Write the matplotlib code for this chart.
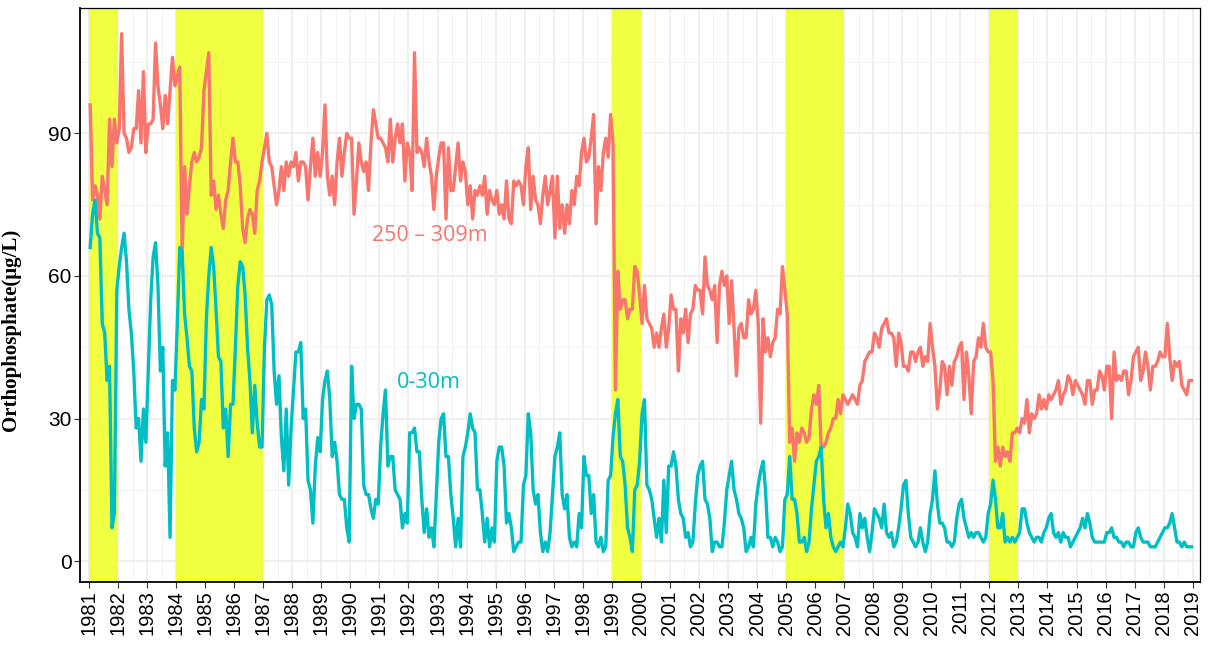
import matplotlib
matplotlib.use("Agg")
import matplotlib.pyplot as plt
from matplotlib.ticker import MultipleLocator
import numpy as np

# Monthly orthophosphate (ug/L), one row per year, Jan..Dec
YEARS = np.arange(1981, 2019)

DEEP_250_309 = [
    96, 76, 79, 77, 72, 81, 78, 75, 93, 83, 93, 88,    # 1981
    91, 111, 90, 89, 86, 87, 91, 91, 99, 88, 103, 86,  # 1982
    92, 92, 93, 109, 100, 96, 91, 98, 92, 99, 106, 100,  # 1983
    102, 104, 65, 83, 73, 79, 84, 86, 84, 85, 87, 99,  # 1984
    103, 107, 77, 80, 74, 77, 73, 70, 76, 78, 84, 89,  # 1985
    84, 84, 79, 70, 67, 72, 74, 73, 69, 78, 80, 84,    # 1986
    87, 90, 84, 83, 79, 75, 78, 83, 78, 84, 81, 84,    # 1987
    83, 86, 80, 84, 84, 83, 76, 83, 89, 81, 86, 81,    # 1988
    86, 96, 81, 77, 81, 75, 84, 89, 81, 86, 90, 89,    # 1989
    89, 73, 80, 88, 84, 82, 84, 78, 88, 95, 92, 89,    # 1990
    89, 88, 87, 84, 93, 84, 89, 92, 88, 92, 80, 88,    # 1991
    86, 78, 107, 86, 87, 86, 83, 89, 84, 81, 74, 81,   # 1992
    85, 88, 88, 72, 87, 78, 78, 83, 88, 80, 84, 82,    # 1993
    75, 79, 72, 78, 77, 79, 77, 81, 73, 78, 76, 75,    # 1994
    78, 73, 75, 72, 80, 72, 71, 80, 79, 80, 79, 75,    # 1995
    83, 87, 74, 81, 76, 75, 71, 77, 81, 75, 78, 81,    # 1996
    68, 81, 70, 75, 69, 75, 71, 78, 75, 81, 79, 86,    # 1997
    89, 84, 85, 89, 94, 71, 83, 78, 86, 89, 85, 94,    # 1998
    88, 36, 61, 53, 55, 55, 51, 53, 53, 62, 61, 56,    # 1999
    50, 58, 51, 50, 49, 45, 48, 45, 49, 52, 45, 49,    # 2000
    56, 53, 53, 40, 51, 48, 53, 46, 52, 53, 58, 57,    # 2001
    57, 52, 64, 58, 57, 55, 58, 46, 58, 61, 58, 60,    # 2002
    50, 59, 49, 39, 49, 50, 47, 47, 55, 52, 53, 57,    # 2003
    50, 29, 51, 44, 47, 43, 46, 47, 53, 52, 62, 57,    # 2004
    52, 25, 28, 21, 27, 25, 28, 27, 25, 26, 32, 35,    # 2005
    33, 37, 24, 24, 25, 27, 28, 30, 30, 34, 31, 35,    # 2006
    34, 33, 34, 35, 34, 33, 37, 38, 42, 43, 44, 44,    # 2007
    48, 47, 45, 49, 50, 51, 48, 48, 47, 41, 48, 46,    # 2008
    41, 41, 40, 44, 44, 42, 44, 45, 41, 43, 42, 50,    # 2009
    45, 41, 32, 36, 42, 41, 35, 41, 37, 42, 43, 45,    # 2010
    46, 34, 44, 39, 31, 42, 43, 47, 45, 50, 45, 44,    # 2011
    44, 38, 21, 24, 20, 24, 22, 23, 21, 27, 27, 28,    # 2012
    27, 30, 29, 34, 27, 31, 30, 31, 35, 32, 34, 32,    # 2013
    35, 34, 35, 36, 38, 33, 35, 36, 39, 38, 35, 38,    # 2014
    37, 36, 35, 33, 38, 38, 33, 36, 36, 40, 39, 36,    # 2015
    41, 41, 30, 44, 38, 39, 38, 40, 40, 35, 38, 43,    # 2016
    44, 45, 38, 40, 44, 41, 36, 41, 41, 42, 44, 43,    # 2017
    43, 50, 43, 38, 42, 41, 42, 37, 36, 35, 38, 38,    # 2018
]

SURFACE_0_30 = [
    66, 73, 76, 69, 68, 50, 48, 38, 41, 7, 10, 57,     # 1981
    62, 66, 69, 63, 53, 48, 40, 28, 30, 21, 32, 25,    # 1982
    40, 55, 64, 67, 58, 40, 45, 20, 27, 5, 38, 36,     # 1983
    50, 66, 65, 52, 47, 41, 40, 28, 23, 25, 34, 32,    # 1984
    51, 60, 66, 62, 53, 43, 42, 28, 32, 22, 33, 33,    # 1985
    45, 58, 63, 62, 56, 45, 38, 27, 37, 29, 24, 24,    # 1986
    45, 55, 56, 54, 40, 33, 39, 26, 19, 32, 16, 28,    # 1987
    36, 44, 44, 46, 30, 32, 17, 15, 8, 20, 26, 23,     # 1988
    34, 38, 40, 34, 22, 25, 21, 14, 13, 13, 7, 4,      # 1989
    41, 30, 33, 33, 32, 16, 14, 14, 11, 9, 13, 12,     # 1990
    24, 31, 36, 20, 22, 22, 15, 14, 13, 7, 10, 8,      # 1991
    27, 27, 28, 23, 23, 13, 6, 11, 5, 7, 3, 14,        # 1992
    25, 30, 31, 22, 22, 14, 9, 3, 9, 3, 22, 24,        # 1993
    27, 31, 28, 27, 15, 15, 10, 4, 9, 3, 7, 4,         # 1994
    21, 24, 24, 20, 8, 10, 7, 2, 3, 4, 4, 16,          # 1995
    18, 31, 27, 15, 12, 14, 6, 2, 4, 2, 6, 14,         # 1996
    22, 24, 27, 14, 11, 14, 5, 3, 4, 3, 10, 7,         # 1997
    22, 18, 18, 10, 14, 4, 3, 5, 2, 3, 17, 18,         # 1998
    26, 31, 34, 22, 21, 16, 7, 5, 2, 15, 16, 21,       # 1999
    31, 34, 16, 15, 13, 9, 5, 9, 4, 17, 6, 20,         # 2000
    20, 23, 20, 13, 10, 9, 5, 6, 3, 4, 12, 18,         # 2001
    20, 21, 13, 12, 9, 2, 4, 4, 3, 3, 8, 15,           # 2002
    18, 21, 15, 13, 10, 9, 7, 2, 3, 5, 3, 12,          # 2003
    16, 19, 21, 15, 5, 5, 3, 5, 4, 2, 3, 13,           # 2004
    14, 22, 13, 13, 10, 4, 4, 5, 2, 4, 11, 16,         # 2005
    21, 22, 24, 13, 7, 10, 5, 3, 2, 3, 4, 3,           # 2006
    7, 12, 10, 6, 5, 3, 10, 7, 9, 5, 2, 6,             # 2007
    11, 10, 9, 7, 12, 6, 5, 6, 3, 4, 7, 11,            # 2008
    16, 17, 10, 5, 4, 3, 4, 7, 4, 2, 4, 10,            # 2009
    13, 19, 12, 8, 8, 7, 4, 4, 3, 4, 9, 12,            # 2010
    13, 9, 7, 5, 6, 5, 6, 6, 5, 4, 5, 10,              # 2011
    12, 17, 13, 7, 7, 10, 4, 5, 4, 5, 4, 5,            # 2012
    6, 11, 11, 8, 6, 5, 4, 5, 5, 4, 6, 7,              # 2013
    9, 10, 6, 5, 6, 4, 6, 5, 5, 3, 4, 5,               # 2014
    6, 7, 9, 7, 10, 8, 5, 4, 4, 4, 4, 4,               # 2015
    6, 6, 7, 5, 5, 4, 4, 3, 4, 4, 3, 3,                # 2016
    6, 7, 5, 4, 4, 4, 3, 3, 3, 4, 5, 6,                # 2017
    7, 7, 8, 10, 7, 4, 4, 3, 4, 3, 3, 3,               # 2018
]

# highlighted periods (start year, end year)
EVENT_STARTS = [1981, 1984, 1999, 2005, 2012]
EVENT_ENDS = [1982, 1987, 2000, 2007, 2013]

DEEP_COLOR = "#F8766D"
SURFACE_COLOR = "#00BFC4"
SHADE_COLOR = "#F0FF42"


def main():
    t = (YEARS[:, None] + (np.arange(12) + 0.5) / 12).ravel()

    fig = plt.figure(figsize=(12.19, 6.46), dpi=100)
    ax = fig.add_axes([0.0656, 0.0991, 0.9188, 0.8885])

    for start, end in zip(EVENT_STARTS, EVENT_ENDS):
        ax.axvspan(start, end, color=SHADE_COLOR, lw=0, zorder=1)

    ax.plot(t, DEEP_250_309, color=DEEP_COLOR, lw=2.4, zorder=3, solid_joinstyle="round")
    ax.plot(t, SURFACE_0_30, color=SURFACE_COLOR, lw=2.4, zorder=3, solid_joinstyle="round")

    ax.text(1992.75, 68.5, "250 \u2013 309m", color=DEEP_COLOR, fontsize=15.5,
            family="Open Sans", ha="center", va="center", zorder=4)
    ax.text(1992.7, 37.5, "0-30m", color=SURFACE_COLOR, fontsize=15.5,
            family="Open Sans", ha="center", va="center", zorder=4)

    ax.set_xlim(1980.69, 2019.25)
    ax.set_ylim(-4.4, 116.4)
    ax.xaxis.set_minor_locator(MultipleLocator(0.5))
    ax.yaxis.set_major_locator(MultipleLocator(30))
    ax.yaxis.set_minor_locator(MultipleLocator(15))
    ax.set_xticks(range(1981, 2020))
    ax.set_xticklabels([str(y) for y in range(1981, 2020)], rotation=90,
                       family="Liberation Sans", fontsize=14.5)
    for lab in ax.get_yticklabels():
        lab.set_family("Liberation Sans")
        lab.set_fontsize(15)

    ax.set_axisbelow(True)
    ax.grid(True, which="major", color="#EBEBEB", lw=1.1)
    ax.grid(True, which="minor", color="#F2F2F2", lw=0.7)
    ax.tick_params(which="major", length=4, width=0.8, color="#333333", labelcolor="black", pad=2)
    ax.tick_params(which="minor", length=0)

    for s in ax.spines.values():
        s.set_color("black")
        s.set_linewidth(0.9)
    ax.spines["left"].set_linewidth(1.3)
    ax.spines["bottom"].set_linewidth(1.3)

    ax.set_ylabel("Orthophosphate(\u03bcg/L)", family="Liberation Serif", fontweight="bold",
                  fontsize=15)
    ax.yaxis.set_label_coords(-0.053, 0.44)

    fig.savefig("out.png", dpi=100)


if __name__ == "__main__":
    main()
